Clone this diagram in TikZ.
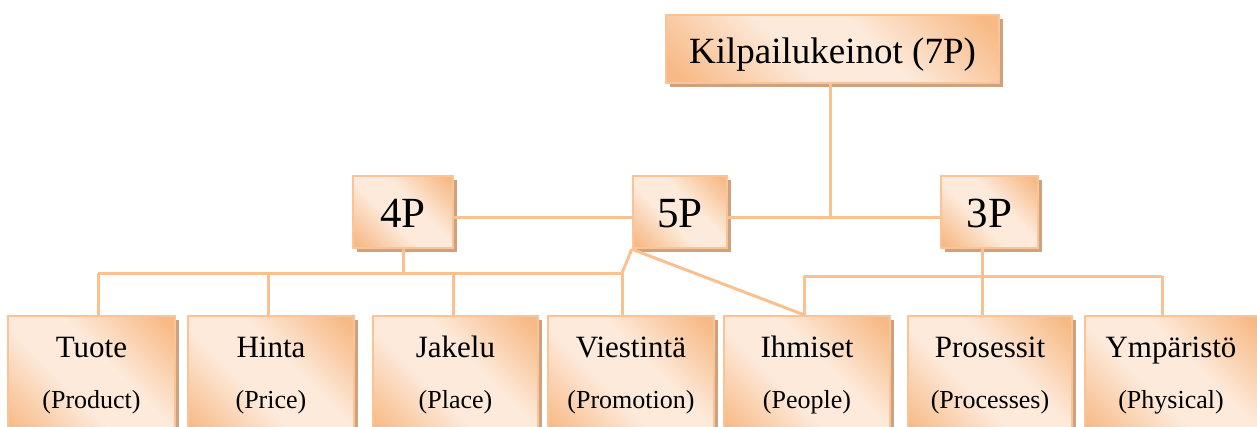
\documentclass[tikz,border=0pt]{standalone}
\usepackage{fontspec}
\setmainfont{Liberation Serif}
\usetikzlibrary{shadows}
\definecolor{pkdark}{RGB}{247,186,134}
\definecolor{pklight}{RGB}{253,234,219}
\definecolor{bordc}{RGB}{250,196,150}
\definecolor{linec}{RGB}{250,192,144}
\definecolor{shadc}{RGB}{206,162,126}
\pgfdeclarehorizontalshading{peach}{100bp}{color(0bp)=(pkdark); color(18bp)=(pkdark); color(42bp)=(pklight); color(58bp)=(pklight); color(82bp)=(pkdark); color(100bp)=(pkdark)}
\tikzset{
  box/.style={draw=bordc, line width=2.4pt, shading=peach, shading angle=45,
    drop shadow={shadow xshift=3.5pt, shadow yshift=-4pt, fill=shadc, opacity=1},
    inner sep=0pt},
  conn/.style={draw=linec, line width=3pt},
  bigtxt/.style={anchor=base, inner sep=0pt, font=\fontsize{43}{43}\selectfont},
  toptxt/.style={anchor=base, inner sep=0pt, font=\fontsize{37}{37}\selectfont},
  maintxt/.style={anchor=base, inner sep=0pt, font=\fontsize{31}{31}\selectfont},
  subtxt/.style={anchor=base, inner sep=0pt, font=\fontsize{26}{26}\selectfont},
}
\begin{document}
\begin{tikzpicture}[x=1pt,y=-1pt]
\useasboundingbox (0,0) rectangle (1257,426);
\clip (0,0) rectangle (1257,426);
\coordinate (j1) at (830,217);
\coordinate (c4) at (403,273);
\coordinate (lL) at (98,273);
\coordinate (lH) at (268,273);
\coordinate (lJ) at (453,273);
\coordinate (lR) at (622,273);
\coordinate (r1) at (804,276);
\coordinate (c3) at (982,276);
\coordinate (r3) at (1162,276);
% nodes
\node[box, minimum width=333pt, minimum height=68pt] (top) at (832.5,49) {};
\node[box, minimum width=100pt, minimum height=72pt] (p4) at (403,212) {};
\node[box, minimum width=94pt, minimum height=72pt] (p5) at (680,212) {};
\node[box, minimum width=97pt, minimum height=72pt] (p3) at (989.5,212) {};
\node[box, minimum width=167pt, minimum height=124pt] (tuote) at (91.5,378) {};
\node[box, minimum width=166pt, minimum height=124pt] (hinta) at (271,378) {};
\node[box, minimum width=165pt, minimum height=124pt] (jakelu) at (455.5,378) {};
\node[box, minimum width=166pt, minimum height=124pt] (viest) at (631,378) {};
\node[box, minimum width=166pt, minimum height=124pt] (ihm) at (807,378) {};
\node[box, minimum width=164pt, minimum height=124pt] (pros) at (990,378) {};
\node[box, minimum width=177pt, minimum height=124pt] (ymp) at (1173.5,378) {};
% connectors
\draw[conn] (top.south -| j1) -- (j1);
\draw[conn] (p4.east |- j1) -- (p5.west |- j1);
\draw[conn] (p5.east |- j1) -- (p3.west |- j1);
\draw[conn] (p4.south -| c4) -- (c4);
\draw[conn] (lL) -- (lR);
\draw[conn] (lL) -- (lL |- tuote.north);
\draw[conn] (lH) -- (lH |- hinta.north);
\draw[conn] (lJ) -- (lJ |- jakelu.north);
\draw[conn] (lR) -- (lR |- viest.north);
\draw[conn] (lR) -- (p5.south west);
\draw[conn] (p5.south west) -- (ihm.north -| r1);
\draw[conn] (r1) -- (r3);
\draw[conn] (r1) -- (r1 |- ihm.north);
\draw[conn] (p3.south -| c3) -- (c3 |- pros.north);
\draw[conn] (r3) -- (r3 |- ymp.north);
% texts
\node[toptxt] (ttop) at (832.5,63) {Kilpailukeinot (7P)};
\node[bigtxt] (t4) at (403,227) {4P};
\node[bigtxt] (t5) at (680,227) {5P};
\node[bigtxt] (t3) at (989.5,227) {3P};
\node[maintxt] (a1) at (91.5,357) {Tuote};
\node[subtxt] (b1) at (91.5,408) {(Product)};
\node[maintxt] (a2) at (271,357) {Hinta};
\node[subtxt] (b2) at (271,408) {(Price)};
\node[maintxt] (a3) at (455.5,357) {Jakelu};
\node[subtxt] (b3) at (455.5,408) {(Place)};
\node[maintxt] (a4) at (631,357) {Viestintä};
\node[subtxt] (b4) at (631,408) {(Promotion)};
\node[maintxt] (a5) at (807,357) {Ihmiset};
\node[subtxt] (b5) at (807,408) {(People)};
\node[maintxt] (a6) at (990,357) {Prosessit};
\node[subtxt] (b6) at (990,408) {(Processes)};
\node[maintxt] (a7) at (1171,357) {Ympäristö};
\node[subtxt] (b7) at (1171,408) {(Physical)};
\end{tikzpicture}
\end{document}
